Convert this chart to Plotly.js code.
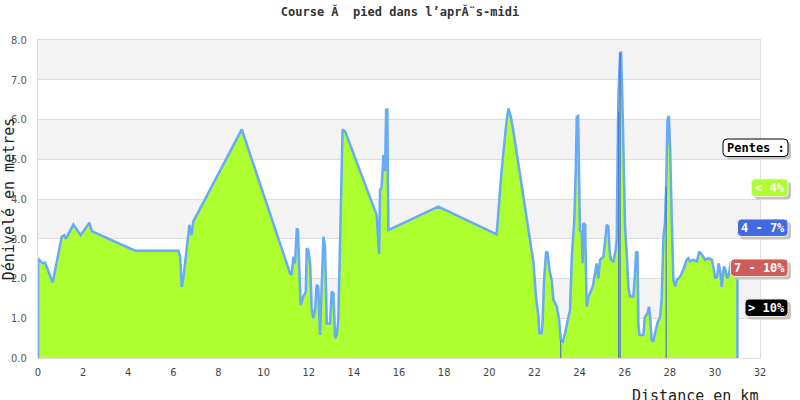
<!DOCTYPE html>
<html><head><meta charset="utf-8">
<script src="https://cdn.plot.ly/plotly-3.0.1.min.js"></script>
<style>html,body{margin:0;padding:0;background:#fff}#chart{width:800px;height:400px}</style>
</head><body><div id="chart"></div>
<script>
// Distance (km) and elevation (m) of the profile
const distanceKm = [0, 0, 0.21, 0.31, 0.65, 1.05, 1.17, 1.24, 1.57, 1.89, 2.28, 2.38, 4.30, 6.22, 6.30, 6.37, 6.45, 6.59, 6.71, 6.81, 6.88, 9.03,
  11.17, 11.24, 11.32, 11.39, 11.47, 11.52, 11.58, 11.64, 11.76, 11.87, 11.91, 11.98, 12.06, 12.13, 12.20, 12.28, 12.35, 12.42, 12.50, 12.57, 12.65, 12.72,
  12.80, 12.94, 13.02, 13.09, 13.17, 13.24, 13.31, 13.39, 13.43, 13.50, 13.61, 15.01, 15.06, 15.12, 15.16, 15.23, 15.31, 15.38, 15.43, 15.48, 15.53,
  17.74, 20.33, 20.41, 20.48, 20.55, 20.65, 20.77, 20.85, 20.95, 21.06, 21.37, 21.51, 21.66, 21.81, 21.96, 22.07, 22.18, 22.22, 22.32, 22.37, 22.43,
  22.52, 22.58, 22.67, 22.77, 22.84, 22.99, 23.10, 23.17, 23.26, 23.36, 23.51, 23.58, 23.66, 23.73, 23.77, 23.83, 23.88, 23.94, 23.97, 24.00, 24.02,
  24.10, 24.14, 24.17, 24.25, 24.29, 24.32, 24.40, 24.47, 24.59, 24.69, 24.76, 24.84, 24.91, 25.06, 25.13, 25.21, 25.28, 25.33, 25.39, 25.50, 25.58,
  25.65, 25.70, 25.72, 25.80, 25.84, 25.89, 25.95, 26.02, 26.10, 26.17, 26.24, 26.39, 26.46, 26.51, 26.57, 26.61, 26.66, 26.83, 26.90, 27.01, 27.08,
  27.13, 27.20, 27.27, 27.35, 27.45, 27.57, 27.64, 27.72, 27.79, 27.84, 27.90, 27.96, 28.02, 28.09, 28.16, 28.24, 28.31, 28.46, 28.60, 28.75, 28.83,
  28.90, 29.05, 29.20, 29.31, 29.42, 29.57, 29.72, 29.87, 29.95, 30.02, 30.10, 30.17, 30.25, 30.30, 30.40, 30.47, 30.54, 30.62, 30.70, 30.84, 30.97,
  31.00, 31.00];
const elevationM = [0, 2.50, 2.38, 2.40, 1.90, 3.05, 3.09, 3.00, 3.36, 3.09, 3.40, 3.19, 2.70, 2.70, 2.55, 1.79, 2.05, 2.80, 3.35, 3.09, 3.43, 5.75,
  2.13, 2.09, 2.55, 2.38, 3.26, 3.22, 2.21, 1.33, 1.54, 1.67, 2.76, 2.72, 2.38, 1.25, 1.00, 1.20, 1.84, 1.80, 0.58, 1.92, 3.05, 2.80,
  0.87, 0.87, 1.67, 1.63, 0.50, 0.58, 0.96, 2.97, 3.85, 5.75, 5.70, 3.60, 3.14, 2.62, 4.23, 4.30, 5.11, 4.70, 6.24, 6.25, 3.22,
  3.81, 3.11, 3.60, 4.23, 4.73, 5.40, 5.98, 6.28, 6.08, 5.74, 4.62, 4.10, 3.50, 2.97, 2.40, 1.54, 1.04, 0.62, 0.62, 0.96, 1.96,
  2.68, 2.65, 2.22, 1.96, 1.47, 1.30, 0.96, 0.45, 0.41, 0.62, 1.04, 1.20, 2.55, 3.22, 3.47, 4.65, 6.07, 6.09, 5.20, 4.60, 3.22,
  3.14, 2.38, 3.39, 3.35, 2.10, 1.29, 1.55, 1.63, 1.80, 2.13, 2.38, 2.00, 2.47, 2.55, 2.89, 3.35, 3.31, 2.72, 2.47, 2.43, 2.64,
  2.97, 5.57, 6.49, 7.67, 7.68, 6.74, 4.70, 3.30, 2.55, 1.76, 1.55, 1.55, 2.13, 2.68, 2.65, 0.83, 0.58, 0.58, 1.04, 1.12, 1.29,
  1.04, 0.45, 0.41, 0.62, 0.87, 1.04, 1.46, 3.05, 3.39, 4.30, 5.99, 6.09, 5.20, 3.47, 1.96, 1.80, 1.96, 2.05, 2.22, 2.47, 2.51,
  2.43, 2.47, 2.43, 2.68, 2.60, 2.47, 2.51, 2.47, 2.22, 2.00, 2.05, 2.38, 2.13, 1.79, 2.30, 2.22, 2.00, 2.10, 2.38, 2.47, 2.05,
  2.40, 0];
// Short segments filled with the "4 - 7%" slope colour
const steepKm = [23.17, 25.74, 25.80, 27.84];
const steepTop = [0.45, 6.2, 7.67, 4.30];

const xTicks = [0, 2, 4, 6, 8, 10, 12, 14, 16, 18, 20, 22, 24, 26, 28, 30, 32];
const yTicks = [0, 1, 2, 3, 4, 5, 6, 7, 8];
const bandStarts = [1, 3, 5, 7];

const legendLabels = ['Pentes :', '< 4%', '4 - 7%', '7 - 10%', '> 10%'];
const legendColors = ['#ffffff', '#adff2f', '#4169e1', '#cd5c5c', '#000000'];
const legendText = ['#000000', '#ffffff', '#ffffff', '#ffffff', '#ffffff'];
const legendBorder = ['#000000', '#f3f0d8', '#f3f0d8', '#f3f0d8', '#f3f0d8'];

const mono = '"DejaVu Sans Mono", "Liberation Mono", monospace';

const steepX = [], steepY = [];
steepKm.forEach((x, i) => { steepX.push(x, x, null); steepY.push(0, steepTop[i], null); });

const traces = [
  {x: distanceKm, y: elevationM, type: 'scatter', mode: 'lines', fill: 'tozeroy',
   fillcolor: '#adff2f', line: {color: '#66aaf8', width: 2.5}, hoverinfo: 'skip'},
  {x: steepX, y: steepY, type: 'scatter', mode: 'lines', line: {color: '#3a5fe0', width: 1}, hoverinfo: 'skip'}
];

// pixel -> paper helpers (plot area 38..760 x 40..358)
const PL = 38, PW = 722, PB = 358, PH = 318;
const px = v => (v - PL) / PW;
const py = v => (PB - v) / PH;
function roundRect(x0, y0, x1, y1, r) {
  const p = (x, y) => px(x) + ',' + py(y);
  return 'M' + p(x0 + r, y0) + ' L' + p(x1 - r, y0) + ' Q' + p(x1, y0) + ' ' + p(x1, y0 + r) +
    ' L' + p(x1, y1 - r) + ' Q' + p(x1, y1) + ' ' + p(x1 - r, y1) +
    ' L' + p(x0 + r, y1) + ' Q' + p(x0, y1) + ' ' + p(x0, y1 - r) +
    ' L' + p(x0, y0 + r) + ' Q' + p(x0, y0) + ' ' + p(x0 + r, y0) + ' Z';
}
// legend box pixel geometry [left, top, bottom]; all right edges at 788
const boxLeft = [723, 751.5, 737.5, 730.5, 745];
const boxTop = [139, 179, 219, 259, 299];
const boxH = 17.5, boxRight = 788;

const shapes = bandStarts.map(b => ({type: 'rect', xref: 'paper', yref: 'y', x0: 0, x1: 1, y0: b, y1: b + 1,
  fillcolor: '#f3f3f3', line: {width: 0}, layer: 'below'}));
const annotations = [];
legendLabels.forEach((t, i) => {
  const l = boxLeft[i], tp = boxTop[i], r = boxRight, b = tp + boxH;
  shapes.push({type: 'path', xref: 'paper', yref: 'paper', path: roundRect(l + 3, tp + 3, r + 3, b + 3, 4),
    fillcolor: '#c4c4c4', line: {width: 0}, layer: 'above'});
  shapes.push({type: 'path', xref: 'paper', yref: 'paper', path: roundRect(l, tp, r, b, 4),
    fillcolor: legendColors[i], line: {color: legendBorder[i], width: 1}, layer: 'above'});
  annotations.push({xref: 'paper', yref: 'paper', x: px((l + r) / 2), y: py(tp + boxH / 2), xanchor: 'center', yanchor: 'middle',
    showarrow: false, text: '<b>' + t + '</b>', font: {family: mono, size: 12, color: legendText[i]}});
});
annotations.push({xref: 'paper', yref: 'paper', x: 1, y: py(396), xanchor: 'right', yanchor: 'middle',
  showarrow: false, text: 'Distance en km', font: {family: mono, size: 15, color: '#222'}});

const layout = {
  width: 800, height: 400,
  margin: {l: 38, r: 40, t: 40, b: 42},
  paper_bgcolor: '#ffffff', plot_bgcolor: '#ffffff',
  showlegend: false,
  title: {text: '<b>Course Ă\u00a0 pied dans l’aprĂ¨s-midi</b>', x: 0.5, xanchor: 'center', y: 0.97, yanchor: 'middle',
    font: {family: mono, size: 12, color: '#333'}},
  xaxis: {range: [0, 32], tickvals: xTicks, ticktext: xTicks.map(String), showgrid: false, zeroline: false,
    showline: true, linecolor: '#dddddd', mirror: true, ticks: '', ticklabelstandoff: 4,
    tickfont: {family: '"DejaVu Sans Condensed", "Liberation Sans Narrow", sans-serif', size: 11, color: '#444'}},
  yaxis: {range: [0, 8], tickvals: yTicks, ticktext: yTicks.map(v => v.toFixed(1)), showgrid: true, gridcolor: '#dddddd',
    zeroline: false, showline: true, linecolor: '#dddddd', mirror: true, ticks: '', ticklabelstandoff: 8,
    tickfont: {family: '"DejaVu Sans Condensed", "Liberation Sans Narrow", sans-serif', size: 11, color: '#555'},
    title: {text: 'Dénivelé en metres', standoff: 2, font: {family: mono, size: 15, color: '#222'}}},
  shapes: shapes,
  annotations: annotations
};

Plotly.newPlot('chart', traces, layout, {displayModeBar: false, staticPlot: true});
</script></body></html>
